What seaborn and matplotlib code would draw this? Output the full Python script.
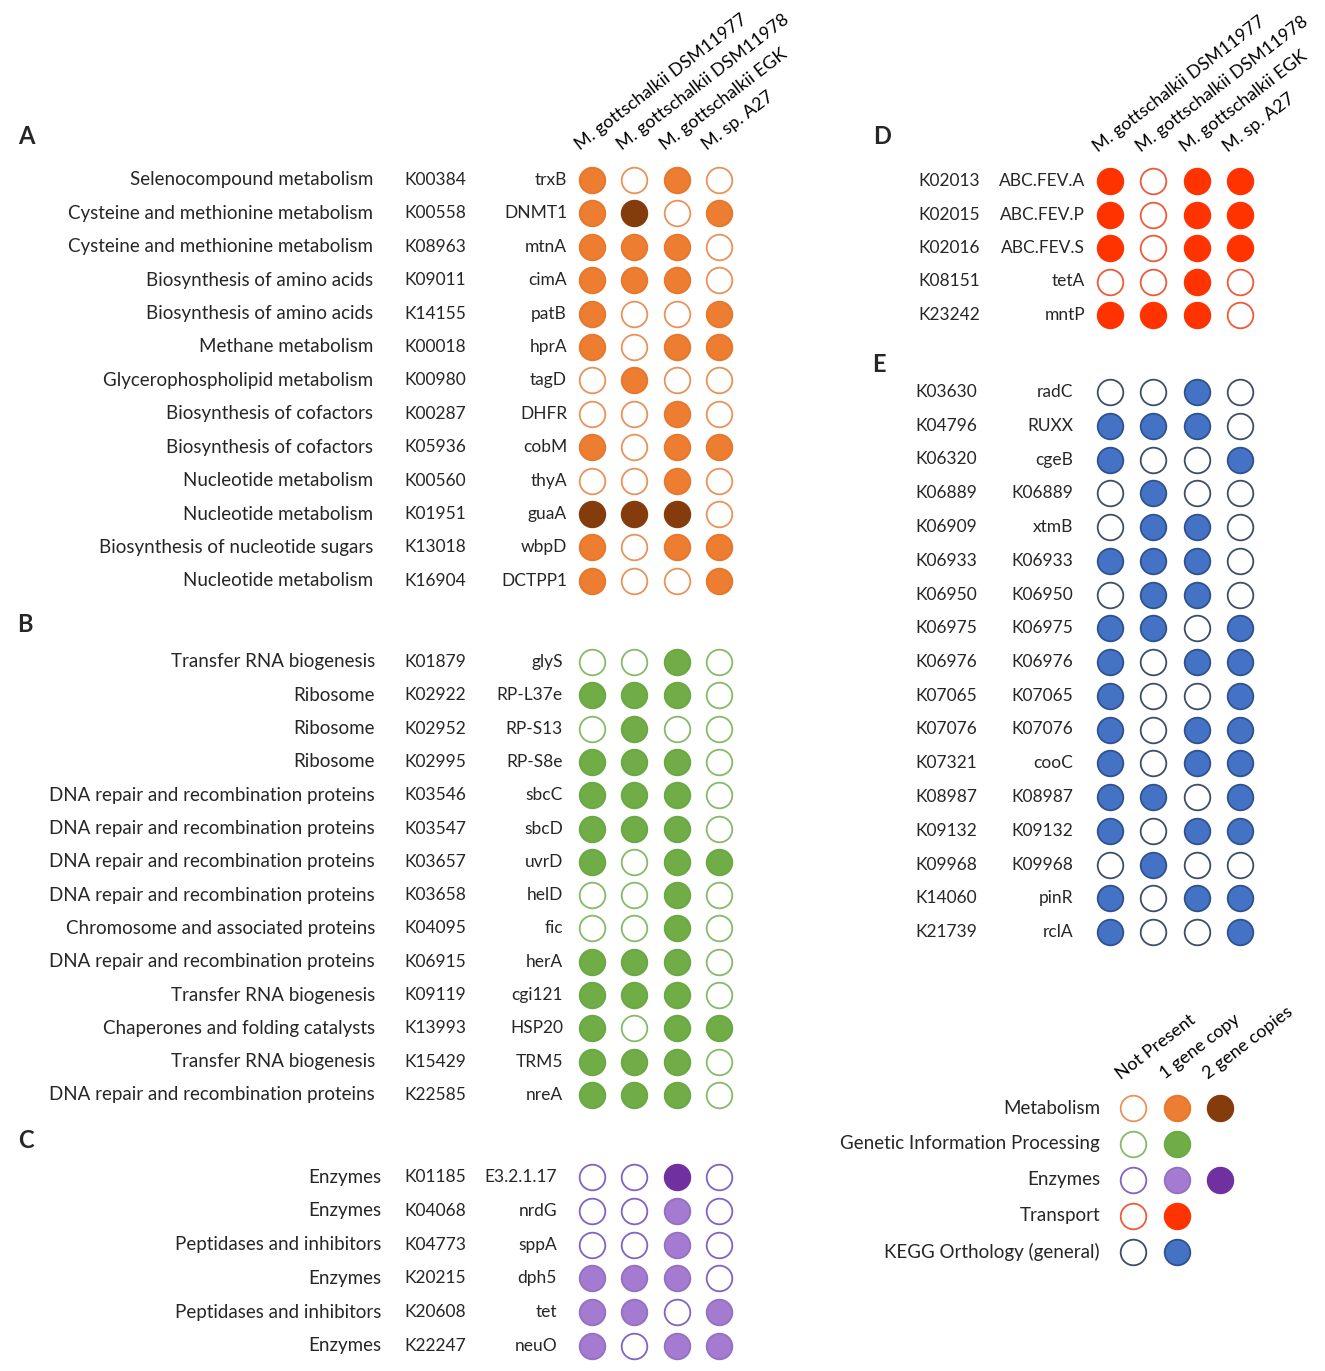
import pandas as pd
import numpy as np
import matplotlib
matplotlib.use('Agg')
import matplotlib.pyplot as plt
import seaborn as sns

sns.set_theme(style="white")
plt.rcParams['font.family'] = ['Lato', 'DejaVu Sans']

# strains (column headers)
strains = ['M. gottschalkii DSM11977', 'M. gottschalkii DSM11978',
           'M. gottschalkii EGK', 'M. sp. A27']

# Panel A - Metabolism
a_cat = ['Selenocompound metabolism', 'Cysteine and methionine metabolism',
         'Cysteine and methionine metabolism', 'Biosynthesis of amino acids',
         'Biosynthesis of amino acids', 'Methane metabolism',
         'Glycerophospholipid metabolism', 'Biosynthesis of cofactors',
         'Biosynthesis of cofactors', 'Nucleotide metabolism',
         'Nucleotide metabolism', 'Biosynthesis of nucleotide sugars',
         'Nucleotide metabolism']
a_ko = ['K00384', 'K00558', 'K08963', 'K09011', 'K14155', 'K00018', 'K00980',
        'K00287', 'K05936', 'K00560', 'K01951', 'K13018', 'K16904']
a_gene = ['trxB', 'DNMT1', 'mtnA', 'cimA', 'patB', 'hprA', 'tagD', 'DHFR',
          'cobM', 'thyA', 'guaA', 'wbpD', 'DCTPP1']
a_val = [[1, 0, 1, 0], [1, 2, 0, 1], [1, 1, 1, 0], [1, 1, 1, 0], [1, 0, 0, 1],
         [1, 0, 1, 1], [0, 1, 0, 0], [0, 0, 1, 0], [1, 0, 1, 1], [0, 0, 1, 0],
         [2, 2, 2, 0], [1, 0, 1, 1], [1, 0, 0, 1]]

# Panel B - Genetic Information Processing
dna = 'DNA repair and recombination proteins'
b_cat = ['Transfer RNA biogenesis', 'Ribosome', 'Ribosome', 'Ribosome', dna, dna,
         dna, dna, 'Chromosome and associated proteins', dna,
         'Transfer RNA biogenesis', 'Chaperones and folding catalysts',
         'Transfer RNA biogenesis', dna]
b_ko = ['K01879', 'K02922', 'K02952', 'K02995', 'K03546', 'K03547', 'K03657',
        'K03658', 'K04095', 'K06915', 'K09119', 'K13993', 'K15429', 'K22585']
b_gene = ['glyS', 'RP-L37e', 'RP-S13', 'RP-S8e', 'sbcC', 'sbcD', 'uvrD', 'helD',
          'fic', 'herA', 'cgi121', 'HSP20', 'TRM5', 'nreA']
b_val = [[0, 0, 1, 0], [1, 1, 1, 0], [0, 1, 0, 0], [1, 1, 1, 0], [1, 1, 1, 0],
         [1, 1, 1, 0], [1, 0, 1, 1], [0, 0, 1, 0], [0, 0, 1, 0], [1, 1, 1, 0],
         [1, 1, 1, 0], [1, 0, 1, 1], [1, 1, 1, 0], [1, 1, 1, 0]]

# Panel C - Enzymes
c_cat = ['Enzymes', 'Enzymes', 'Peptidases and inhibitors', 'Enzymes',
         'Peptidases and inhibitors', 'Enzymes']
c_ko = ['K01185', 'K04068', 'K04773', 'K20215', 'K20608', 'K22247']
c_gene = ['E3.2.1.17', 'nrdG', 'sppA', 'dph5', 'tet', 'neuO']
c_val = [[0, 0, 2, 0], [0, 0, 1, 0], [0, 0, 1, 0], [1, 1, 1, 0], [1, 1, 0, 1],
         [1, 0, 1, 1]]

# Panel D - Transport
d_ko = ['K02013', 'K02015', 'K02016', 'K08151', 'K23242']
d_gene = ['ABC.FEV.A', 'ABC.FEV.P', 'ABC.FEV.S', 'tetA', 'mntP']
d_val = [[1, 0, 1, 1], [1, 0, 1, 1], [1, 0, 1, 1], [0, 0, 1, 0], [1, 1, 1, 0]]

# Panel E - KEGG Orthology (general)
e_ko = ['K03630', 'K04796', 'K06320', 'K06889', 'K06909', 'K06933', 'K06950',
        'K06975', 'K06976', 'K07065', 'K07076', 'K07321', 'K08987', 'K09132',
        'K09968', 'K14060', 'K21739']
e_gene = ['radC', 'RUXX', 'cgeB', 'K06889', 'xtmB', 'K06933', 'K06950', 'K06975',
          'K06976', 'K07065', 'K07076', 'cooC', 'K08987', 'K09132', 'K09968',
          'pinR', 'rclA']
e_val = [[0, 0, 1, 0], [1, 1, 1, 0], [1, 0, 0, 1], [0, 1, 0, 0], [0, 1, 1, 0],
         [1, 1, 1, 0], [0, 1, 1, 0], [1, 1, 0, 1], [1, 0, 1, 1], [1, 0, 0, 1],
         [1, 0, 1, 1], [1, 0, 1, 1], [1, 1, 0, 1], [1, 0, 1, 1], [0, 1, 0, 0],
         [1, 0, 1, 1], [1, 0, 0, 1]]

# Legend
leg_groups = ['Metabolism', 'Genetic Information Processing', 'Enzymes',
              'Transport', 'KEGG Orthology (general)']
leg_states = ['Not Present', '1 gene copy', '2 gene copies']
leg_val = [[0, 1, 2], [0, 1], [0, 1, 2], [0, 1], [0, 1]]

# colours per group: (empty edge, 1 copy, 2 copies, filled edge)
palette = {
    'Metabolism': ('#E9935A', '#ED7D31', '#843C0C', '#E6782E'),
    'Genetic Information Processing': ('#86BA68', '#70AD47', '#70AD47', '#6AA843'),
    'Enzymes': ('#8262C4', '#A47BD0', '#7030A0', '#9370C0'),
    'Transport': ('#EE5A3A', '#FF3300', '#FF3300', '#FF3300'),
    'KEGG Orthology (general)': ('#3E4E6A', '#4472C4', '#4472C4', '#2F528F'),
}

W, H = 1325, 1371
fig = plt.figure(figsize=(W / 100, H / 100), dpi=100)
ax = fig.add_axes([0, 0, 1, 1])
ax.set_xlim(0, W)
ax.set_ylim(H, 0)
ax.axis('off')

FS = 12.5      # ids / gene names
FS_CAT = 13.5  # pathway names
FS_HEAD = 12.9
left_cols = [592, 634, 677, 719]
right_cols = [1110, 1153, 1197, 1240]

rows = []


def add_dots(vals, cols, y0, dy, group):
    for i, r in enumerate(vals):
        for j, v in enumerate(r):
            rows.append({'x': cols[j], 'y': y0 + i * dy, 'state': v, 'group': group})


def header(cols, y, labels):
    for x, lab in zip(cols, labels):
        ax.text(x - 10, y, lab, rotation=37.5, rotation_mode='anchor',
                ha='left', va='bottom', fontsize=FS_HEAD, color='black')


# ---- Panel A
header(left_cols, 153, strains)
ax.text(18, 137, 'A', fontsize=17, fontweight='bold', va='center')
y0, dy = 180, 33.4
for i in range(len(a_ko)):
    y = y0 + i * dy
    ax.text(373, y, a_cat[i], ha='right', va='center', fontsize=FS_CAT)
    ax.text(404, y, a_ko[i], ha='left', va='center', fontsize=FS)
    ax.text(567, y, a_gene[i], ha='right', va='center', fontsize=FS)
add_dots(a_val, left_cols, y0, dy, 'Metabolism')

# ---- Panel B
ax.text(17, 625, 'B', fontsize=17, fontweight='bold', va='center')
y0, dy = 662, 33.3
for i in range(len(b_ko)):
    y = y0 + i * dy
    ax.text(375, y, b_cat[i], ha='right', va='center', fontsize=FS_CAT)
    ax.text(404, y, b_ko[i], ha='left', va='center', fontsize=FS)
    ax.text(563, y, b_gene[i], ha='right', va='center', fontsize=FS)
add_dots(b_val, left_cols, y0, dy, 'Genetic Information Processing')

# ---- Panel C
ax.text(18, 1141, 'C', fontsize=17, fontweight='bold', va='center')
y0, dy = 1177, 33.8
for i in range(len(c_ko)):
    y = y0 + i * dy
    ax.text(381, y, c_cat[i], ha='right', va='center', fontsize=FS_CAT)
    ax.text(404, y, c_ko[i], ha='left', va='center', fontsize=FS)
    ax.text(557, y, c_gene[i], ha='right', va='center', fontsize=FS)
add_dots(c_val, left_cols, y0, dy, 'Enzymes')

# ---- Panel D
header(right_cols, 155, strains)
ax.text(873, 137, 'D', fontsize=17, fontweight='bold', va='center')
y0, dy = 181, 33.5
for i in range(len(d_ko)):
    y = y0 + i * dy
    ax.text(918, y, d_ko[i], ha='left', va='center', fontsize=FS)
    ax.text(1085, y, d_gene[i], ha='right', va='center', fontsize=FS)
add_dots(d_val, right_cols, y0, dy, 'Transport')

# ---- Panel E
ax.text(872, 365, 'E', fontsize=17, fontweight='bold', va='center')
y0, dy = 392, 33.75
for i in range(len(e_ko)):
    y = y0 + i * dy
    ax.text(915, y, e_ko[i], ha='left', va='center', fontsize=FS)
    ax.text(1073, y, e_gene[i], ha='right', va='center', fontsize=FS)
add_dots(e_val, right_cols, y0, dy, 'KEGG Orthology (general)')

# ---- Legend
leg_cols = [1133, 1177, 1220]
header(leg_cols, 1082, leg_states)
y0, dy = 1108, 36
for i, g in enumerate(leg_groups):
    y = y0 + i * dy
    ax.text(1100, y, g, ha='right', va='center', fontsize=FS_CAT)
    for j, v in enumerate(leg_val[i]):
        rows.append({'x': leg_cols[j], 'y': y, 'state': v, 'group': g})

df = pd.DataFrame(rows)

for (g, s), sub in df.groupby(['group', 'state']):
    empty_edge, one, two, fill_edge = palette[g]
    if s == 0:
        fc, ec = 'white', empty_edge
    elif s == 1:
        fc, ec = one, fill_edge
    else:
        fc, ec = two, two
    sns.scatterplot(data=sub, x='x', y='y', ax=ax, s=340, color=fc,
                    edgecolor=ec, linewidth=1.3, legend=False, zorder=3)

ax.set_xlim(0, W)
ax.set_ylim(H, 0)
ax.axis('off')
fig.savefig('out.png', dpi=100, facecolor='white')
